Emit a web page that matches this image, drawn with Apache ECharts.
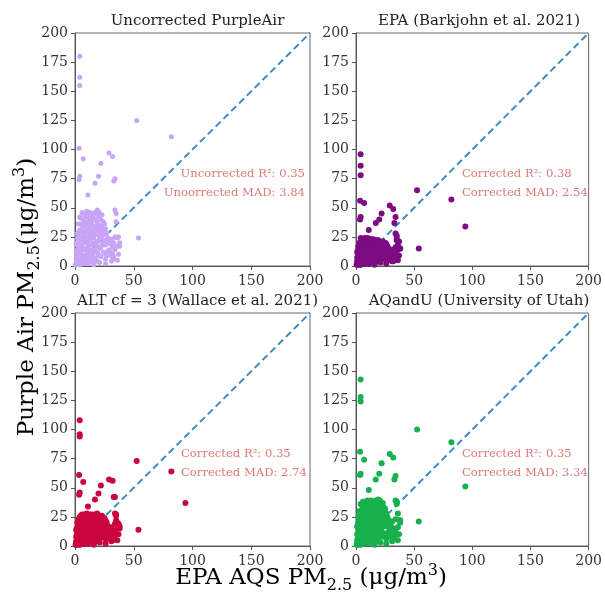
<!DOCTYPE html>
<html>
<head>
<meta charset="utf-8">
<script src="https://cdn.jsdelivr.net/npm/echarts@6/dist/echarts.min.js"></script>
<style>
  html, body { margin: 0; padding: 0; background: #fff; }
  #chart { width: 605px; height: 599px; }
</style>
</head>
<body>
<div id="chart"></div>
<script>
// EPA AQS reference PM2.5 (shared x for all four panels)
const epaAqs = [
  1, 1.5, 2, 2, 2.5, 3, 3, 3.5, 4, 4, 4.5, 5, 5, 5.5, 6, 6, 6.5, 7, 7, 7.5,
  8, 8, 8.5, 9, 9, 9.5, 10, 10, 10.5, 11, 11, 11.5, 12, 12, 12.5, 13, 13, 13.5, 14, 14,
  14.5, 15, 15, 15.5, 16, 16, 16.5, 17, 17, 17.5, 18, 18, 18.5, 19, 19, 19.5, 20, 20, 21, 21,
  21.5, 22, 22, 22.5, 23, 23, 24, 24, 25, 25, 26, 26, 27, 28, 29, 30, 31, 32, 33, 34,
  35, 36, 37, 38, 33, 0.5, 1, 2, 3, 4, 5, 6, 7, 8, 9, 10, 11, 12, 13, 15,
  17, 19, 20, 3, 2, 1.5, 4, 6, 10, 14,
  1, 1, 2, 2.5, 3, 3.5, 4, 4.5, 5, 5, 5.5, 6, 6.5, 7, 7, 7.5, 8, 8, 8.5, 9,
  9, 9.5, 10, 10, 10.5, 11, 11, 11.5, 12, 12, 12.5, 13, 13, 13.5, 14, 14, 15, 15, 15.5, 16,
  16, 17, 17, 18, 18, 18.5, 19, 19, 20, 20, 20.5, 21, 22, 22, 23, 23, 24, 24, 25, 25,
  26, 27, 27, 28, 29, 30, 31, 32, 35, 36, 34, 36, 26, 16, 21,
  4, 4, 4, 3.5, 4, 3.5, 7, 22, 20, 17, 11, 29, 32, 34, 33, 52.5, 82, 94, 54, 34,
  35, 37, 38, 33, 30, 32
];
const uncorrected = [
  3, 8, 14, 5, 20, 10, 26, 2, 16, 31, 7, 22, 12, 36, 4, 18, 28, 9, 40, 24,
  14, 33, 6, 20, 43, 29, 11, 37, 3, 25, 17, 45, 8, 32, 21, 39, 13, 27, 5, 44,
  35, 19, 10, 30, 41, 24, 14, 46, 34, 7, 27, 39, 17, 48, 31, 11, 42, 22, 35, 15,
  28, 40, 8, 24, 33, 18, 29, 12, 22, 36, 18, 6, 28, 13, 21, 9, 4, 16, 8, 25,
  25, 17, 10, 20, 6, 1, 6, 1, 4, 1, 3, 8, 2, 5, 3, 6, 2, 4, 22, 3,
  20, 4, 32, 36, 28, 18, 42, 46, 47, 26,
  12, 20, 24, 9, 17, 30, 24, 13, 30, 41, 7, 24, 34, 15, 29, 45, 21, 38, 27, 8,
  35, 15, 24, 42, 31, 10, 38, 21, 14, 42, 35, 29, 46, 9, 18, 37, 26, 43, 14, 32,
  6, 27, 40, 12, 33, 45, 21, 37, 9, 27, 46, 24, 31, 16, 44, 26, 38, 20, 11, 27,
  32, 21, 9, 24, 14, 19, 23, 7, 38, 24, 14, 5, 2, 1, 3,
  180, 162, 155, 101, 77, 74, 92, 88, 77, 71, 61, 97, 94, 75, 73, 125, 111, null, 24, 48,
  45, 25, 17, 20, 12, 10
];
const epaCorrected = [
  2, 5, 9, 3, 12, 6, 15, 1, 10, 18, 4, 13, 8, 21, 3, 11, 17, 6, 22, 14,
  9, 19, 5, 12, 23, 17, 8, 20, 2, 15, 11, 22, 6, 18, 13, 21, 9, 16, 4, 20,
  19, 12, 7, 17, 22, 14, 10, 21, 18, 6, 16, 20, 11, 22, 17, 8, 21, 14, 19, 10,
  16, 20, 6, 15, 18, 12, 17, 9, 14, 20, 12, 5, 17, 9, 13, 7, 4, 11, 7, 16,
  22, 14, 9, 15, 8, 1, 4, 1, 3, 1, 2, 6, 2, 4, 3, 5, 2, 3, 15, 3,
  13, 4, 18, 20, 17, 11, 24, 23, 24, 16,
  7, 12, 14, 6, 10, 18, 14, 8, 17, 22, 5, 14, 20, 10, 17, 24, 13, 21, 16, 6,
  19, 10, 15, 22, 18, 7, 21, 13, 9, 23, 19, 17, 23, 7, 12, 20, 15, 23, 10, 18,
  5, 16, 21, 9, 18, 22, 13, 20, 7, 16, 21, 15, 17, 11, 21, 16, 20, 13, 8, 17,
  19, 14, 7, 15, 10, 13, 14, 6, 24, 18, 12, 5, 2, 1, 3,
  96, 86, 78, 56, 42, 40, 54, 45, 40, 37, 31, 52, 49, 42, 37, 65, 57, 34, 15, 28,
  26, 21, 15, 8, 5, 4
];
const altCf3 = [
  2, 6, 10, 4, 14, 7, 18, 1, 11, 21, 5, 16, 9, 24, 3, 13, 19, 7, 26, 17,
  10, 22, 5, 14, 27, 20, 9, 24, 3, 17, 12, 27, 7, 21, 15, 25, 10, 19, 5, 26,
  23, 14, 8, 20, 26, 17, 11, 27, 22, 7, 19, 24, 13, 28, 21, 9, 25, 16, 23, 11,
  19, 25, 7, 17, 22, 13, 20, 10, 16, 24, 14, 6, 20, 10, 15, 8, 4, 12, 7, 19,
  22, 15, 10, 17, 7, 1, 4, 1, 3, 1, 2, 6, 2, 4, 3, 5, 2, 4, 17, 3,
  15, 4, 21, 23, 20, 13, 25, 27, 28, 18,
  8, 14, 16, 7, 12, 21, 16, 9, 20, 26, 6, 17, 23, 11, 20, 27, 15, 24, 19, 7,
  23, 11, 17, 26, 21, 8, 24, 15, 10, 26, 23, 20, 27, 8, 13, 24, 18, 27, 11, 21,
  6, 18, 25, 10, 22, 27, 15, 24, 8, 19, 26, 17, 20, 12, 26, 18, 24, 15, 9, 19,
  22, 16, 8, 17, 11, 14, 16, 6, 26, 20, 13, 5, 2, 1, 3,
  108, 96, 94, 61, 46, 44, 55, 52, 45, 40, 34, 57, 56, 42, 42, 73, 64, 37, 14, 28,
  27, 19, 15, 9, 6, 5
];
const aqandu = [
  3, 7, 12, 4, 17, 9, 22, 2, 14, 27, 6, 19, 10, 31, 4, 16, 25, 8, 34, 21,
  12, 29, 6, 18, 36, 26, 10, 32, 3, 22, 15, 38, 8, 28, 19, 34, 12, 24, 5, 37,
  31, 17, 9, 27, 36, 22, 13, 39, 30, 7, 24, 34, 16, 40, 28, 10, 37, 20, 31, 14,
  25, 35, 8, 21, 29, 17, 26, 11, 20, 32, 17, 6, 25, 12, 19, 9, 4, 15, 8, 23,
  38, 16, 10, 20, 6, 1, 5, 1, 3, 1, 3, 7, 2, 5, 3, 6, 2, 4, 21, 3,
  19, 4, 29, 30, 25, 16, 36, 38, 39, 23,
  10, 17, 20, 8, 15, 26, 21, 11, 26, 35, 7, 21, 30, 13, 25, 38, 19, 33, 24, 8,
  31, 13, 21, 36, 27, 9, 33, 19, 13, 36, 31, 26, 39, 9, 16, 33, 23, 37, 13, 28,
  6, 24, 34, 11, 29, 38, 19, 33, 9, 24, 39, 21, 27, 15, 37, 23, 33, 18, 10, 24,
  28, 19, 9, 22, 13, 17, 21, 7, 36, 28, 14, 5, 2, 1, 3,
  143, 128, 124, 81, 62, 61, 74, 71, 62, 57, 48, 79, 76, 60, 57, 100, 89, 51, 21, 39,
  38, 22, 22, 10, 8, 6
];

const panelTitles = [
  'Uncorrected PurpleAir',
  'EPA (Barkjohn et al. 2021)',
  'ALT cf = 3 (Wallace et al. 2021)',
  'AQandU (University of Utah)'
];
const panelSeries = [uncorrected, epaCorrected, altCf3, aqandu];
const panelColors = ['#c8a4f6', '#7d0b82', '#c9053d', '#17b04c'];
const panelSizes = [5, 6, 6, 6];
const statLines = [
  ['Uncorrected R\u00b2: 0.35', 'Unoorrected MAD: 3.84'],
  ['Corrected R\u00b2: 0.38', 'Corrected MAD: 2.54'],
  ['Corrected R\u00b2: 0.35', 'Corrected MAD: 2.74'],
  ['Corrected R\u00b2: 0.35', 'Corrected MAD: 3.34']
];
const xTicks = [0, 50, 100, 150, 200];
const yTicks = [0, 25, 50, 75, 100, 125, 150, 175, 200];

const FONT = 'DejaVu Serif';
const grids = [
  { left: 75, top: 33, width: 235, height: 233 },
  { left: 356, top: 33, width: 236, height: 233 },
  { left: 75, top: 313, width: 235, height: 233 },
  { left: 356, top: 313, width: 236, height: 233 }
];

const chart = echarts.init(document.getElementById('chart'));

const axisCommon = {
  min: 0,
  max: 200,
  axisLine: { show: true, lineStyle: { color: '#555', width: 1 } },
  axisTick: { show: true, inside: false, length: 4, lineStyle: { color: '#555' } },
  splitLine: { show: false },
  axisLabel: { color: '#333', fontFamily: FONT, fontSize: 14, margin: 7 }
};

const series = [];
panelSeries.forEach((ys, i) => {
  const pts = [];
  epaAqs.forEach((x, k) => {
    if (ys[k] != null) pts.push([x, ys[k]]);
  });
  series.push({
    type: 'line',
    xAxisIndex: i,
    yAxisIndex: i,
    data: [[0, 0], [200, 200]],
    symbol: 'none',
    lineStyle: { color: '#3a8cc4', width: 2, type: [7, 4] },
    silent: true,
    z: 1
  });
  series.push({
    type: 'scatter',
    xAxisIndex: i,
    yAxisIndex: i,
    data: pts,
    symbol: 'circle',
    symbolSize: panelSizes[i],
    itemStyle: { color: panelColors[i], opacity: 1 },
    silent: true,
    z: 2
  });
});

// stat text positions (pixel)
const statPos = [
  { x: 305, y: 174, align: 'right' },
  { x: 462, y: 174, align: 'left' },
  { x: 181, y: 454, align: 'left' },
  { x: 462, y: 454, align: 'left' }
];
const graphics = [];
statLines.forEach((lines, i) => {
  lines.forEach((t, j) => {
    graphics.push({
      type: 'text',
      x: statPos[i].x,
      y: statPos[i].y + j * 19,
      style: {
        text: t,
        fill: '#e07878',
        font: '11.6px "' + FONT + '"',
        textAlign: statPos[i].align,
        textVerticalAlign: 'middle'
      }
    });
  });
});

const labelRich = {
  base: { fontFamily: FONT, fontSize: 23, color: '#222', lineHeight: 36, verticalAlign: 'middle' },
  sub: { fontFamily: FONT, fontSize: 16, color: '#222', lineHeight: 36, verticalAlign: 'bottom', padding: [0, 0, 2, 0] },
  sup: { fontFamily: FONT, fontSize: 16, color: '#222', lineHeight: 36, verticalAlign: 'top', padding: [3, 0, 0, 0] }
};
graphics.push({
  type: 'text',
  x: 27,
  y: 297,
  rotation: Math.PI / 2,
  style: {
    text: '{base|Purple Air PM}{sub|2.5}{base|(\u03bcg/m}{sup|3}{base|)}',
    rich: labelRich,
    align: 'center',
    verticalAlign: 'middle'
  }
});
graphics.push({
  type: 'text',
  x: 311,
  y: 578,
  style: {
    text: '{base|EPA AQS PM}{sub|2.5}{base| (\u03bcg/m}{sup|3}{base|)}',
    rich: labelRich,
    align: 'center',
    verticalAlign: 'middle'
  }
});

chart.setOption({
  animation: false,
  backgroundColor: '#fff',
  title: panelTitles.map((t, i) => ({
    text: t,
    left: grids[i].left + grids[i].width / 2,
    top: grids[i].top - 24,
    textAlign: 'center',
    textStyle: { fontFamily: FONT, fontSize: 15, fontWeight: 'normal', color: '#222' }
  })),
  grid: grids.map(g => Object.assign({ show: true, borderColor: '#666', borderWidth: 1, backgroundColor: 'transparent' }, g)),
  xAxis: grids.map((g, i) => Object.assign({}, axisCommon, {
    type: 'value',
    gridIndex: i,
    interval: 50,
    axisLabel: Object.assign({}, axisCommon.axisLabel, { margin: 8, formatter: v => xTicks.includes(v) ? String(v) : '' })
  })),
  yAxis: grids.map((g, i) => Object.assign({}, axisCommon, {
    type: 'value',
    gridIndex: i,
    interval: 25,
    axisLabel: Object.assign({}, axisCommon.axisLabel, { formatter: v => yTicks.includes(v) ? String(v) : '' })
  })),
  series: series,
  graphic: graphics
});
</script>
</body>
</html>
